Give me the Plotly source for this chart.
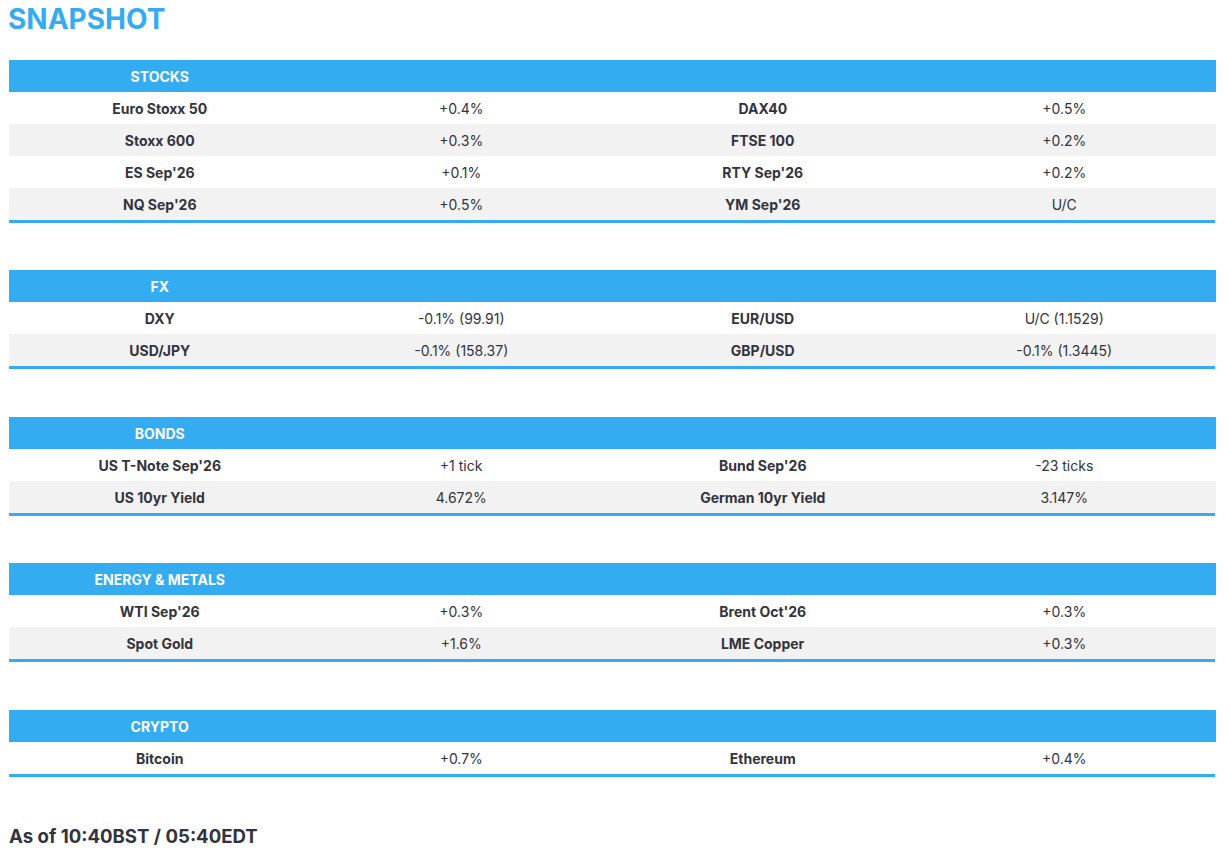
import plotly.graph_objects as go

# ---------------- data ----------------
title_text = "SNAPSHOT"
footer_text = "As of 10:40BST / 05:40EDT"

stocks_header = "STOCKS"
stocks_left_names = ["Euro Stoxx 50", "Stoxx 600", "ES Sep'26", "NQ Sep'26"]
stocks_left_values = ["+0.4%", "+0.3%", "+0.1%", "+0.5%"]
stocks_right_names = ["DAX40", "FTSE 100", "RTY Sep'26", "YM Sep'26"]
stocks_right_values = ["+0.5%", "+0.2%", "+0.2%", "U/C"]

fx_header = "FX"
fx_left_names = ["DXY", "USD/JPY"]
fx_left_values = ["-0.1% (99.91)", "-0.1% (158.37)"]
fx_right_names = ["EUR/USD", "GBP/USD"]
fx_right_values = ["U/C (1.1529)", "-0.1% (1.3445)"]

bonds_header = "BONDS"
bonds_left_names = ["US T-Note Sep'26", "US 10yr Yield"]
bonds_left_values = ["+1 tick", "4.672%"]
bonds_right_names = ["Bund Sep'26", "German 10yr Yield"]
bonds_right_values = ["-23 ticks", "3.147%"]

energy_header = "ENERGY & METALS"
energy_left_names = ["WTI Sep'26", "Spot Gold"]
energy_left_values = ["+0.3%", "+1.6%"]
energy_right_names = ["Brent Oct'26", "LME Copper"]
energy_right_values = ["+0.3%", "+0.3%"]

crypto_header = "CRYPTO"
crypto_left_names = ["Bitcoin"]
crypto_left_values = ["+0.7%"]
crypto_right_names = ["Ethereum"]
crypto_right_values = ["+0.4%"]

sections = [
    (stocks_header, stocks_left_names, stocks_left_values, stocks_right_names, stocks_right_values),
    (fx_header, fx_left_names, fx_left_values, fx_right_names, fx_right_values),
    (bonds_header, bonds_left_names, bonds_left_values, bonds_right_names, bonds_right_values),
    (energy_header, energy_left_names, energy_left_values, energy_right_names, energy_right_values),
    (crypto_header, crypto_left_names, crypto_left_values, crypto_right_names, crypto_right_values),
]

# ---------------- style / layout ----------------
BLUE = "#33ACF2"
GRAY = "#F2F2F2"
WHITE = "#FFFFFF"
TEXT = "#333340"
FONT = "Inter"

W, H = 1214, 842          # figure size (page body has 8px margin)
OFF = 8                   # body margin offset
ROW_H = 32                # visual row pitch
TABLE_LEFT, TABLE_RIGHT = 9, 1215
table_tops = [60, 270, 417, 563, 710]


def fx(px):
    return (px - OFF) / W


def fy(py):
    return 1 - (py - OFF) / H


def add_row(fig, values, fill, font_color, row_top):
    # one table trace per row, so every row keeps the exact 32px pitch;
    # each row domain is 1px taller and the next row overlaps it
    fig.add_trace(go.Table(
        domain=dict(x=[fx(TABLE_LEFT), fx(TABLE_RIGHT)],
                    y=[fy(row_top + ROW_H + 1), fy(row_top)]),
        columnwidth=[1, 1, 1, 1],
        header=dict(
            values=values,
            fill_color=fill,
            line=dict(color=fill, width=1),
            align="center",
            height=ROW_H,
            font=dict(family=FONT, size=14, color=font_color),
        ),
        cells=dict(values=[], height=ROW_H),
    ))


fig = go.Figure()
shapes = []

for (header, ln, lv, rn, rv), top in zip(sections, table_tops):
    n = len(ln)
    add_row(fig, [f"<b>{header}</b>", "", "", ""], BLUE, WHITE, top)
    for i in range(n):
        fill = WHITE if i % 2 == 0 else GRAY
        add_row(fig,
                [f"<b>{ln[i]}</b>", f"<span>{lv[i]}</span>",
                 f"<b>{rn[i]}</b>", f"<span>{rv[i]}</span>"],
                fill, TEXT, top + (i + 1) * ROW_H)
    bottom = top + (n + 1) * ROW_H
    shapes.append(dict(
        type="rect", xref="paper", yref="paper",
        x0=fx(TABLE_LEFT), x1=fx(TABLE_RIGHT),
        y0=fy(bottom + 3), y1=fy(bottom),
        fillcolor=BLUE, line=dict(width=0), layer="above",
    ))

annotations = [
    dict(text=f"<b>{title_text}</b>", xref="paper", yref="paper",
         x=fx(7), y=fy(19), xanchor="left", yanchor="middle", showarrow=False,
         borderpad=0, font=dict(family=FONT, size=28, color=BLUE)),
    dict(text=f"<b>{footer_text}</b>", xref="paper", yref="paper",
         x=fx(7), y=fy(836), xanchor="left", yanchor="middle", showarrow=False,
         font=dict(family=FONT, size=18.6, color=TEXT)),
]

fig.update_layout(
    width=W, height=H,
    margin=dict(l=0, r=0, t=0, b=0),
    paper_bgcolor=WHITE, plot_bgcolor=WHITE,
    shapes=shapes, annotations=annotations,
    font=dict(family=FONT, color=TEXT),
)

fig.write_html("out.html")
